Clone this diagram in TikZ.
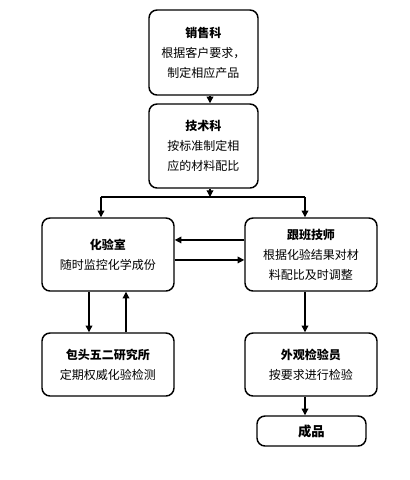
\documentclass[tikz,border=0pt]{standalone}
\usepackage{fontspec}
\newfontfamily\cjk{Noto Sans CJK SC}
\usetikzlibrary{arrows.meta}
\begin{document}
\begin{tikzpicture}[x=0.75pt, y=-0.75pt, box/.style={draw, rounded corners=6pt, line width=1.1pt, align=center, inner sep=0pt, font=\cjk\fontsize{9}{15}\selectfont}, wide/.style={box, minimum width=99pt}, arr/.style={line width=0.9pt, -{Triangle[length=5pt,width=5pt]}}]
	\useasboundingbox (0,0) rectangle (410,480);
	\node[box, minimum width=81.75pt, minimum height=63.75pt] (XS) at (203.5,52.5) {\textbf{销售科}\\根据客户要求，\\制定相应产品};
	\node[box, minimum width=81.75pt, minimum height=63pt] (JS) at (203.5,146) {\textbf{技术科}\\按标准制定相\\应的材料配比};
	\node[wide, minimum height=54.75pt] (HY) at (108,254.5) {\textbf{化验室}\\随时监控化学成份};
	\node[wide, minimum height=54.75pt] (GB) at (311,254.5) {\textbf{跟班技师}\\根据化验结果对材\\料配比及时调整};
	\node[wide, minimum height=47.25pt] (BT) at (108,364.5) {\textbf{包头五二研究所}\\定期权威化验检测};
	\node[wide, minimum height=47.25pt] (WG) at (311,364.5) {\textbf{外观检验员}\\按要求进行检验};
	\node[box, minimum width=81.75pt, minimum height=22.5pt, font=\cjk\bfseries\fontsize{10}{12}\selectfont] (CP) at (311.5,431) {成品};
	\coordinate (split) at (210,197);
	\coordinate (splitL) at (101,197);
	\coordinate (splitR) at (305,197);
	\draw[arr] (XS.south -| split) -- (JS.north -| split);
	\draw[arr] (JS.south -| split) -- (split);
	\draw[line width=0.9pt] (splitL) -- (splitR);
	\draw[arr] (splitL) -- (HY.north -| splitL);
	\draw[arr] (splitR) -- (GB.north -| splitR);
	\draw[arr] ([yshift=10.9pt]GB.west) -- ([yshift=10.9pt]HY.east);
	\draw[arr] ([yshift=-4.1pt]HY.east) -- ([yshift=-4.1pt]GB.west);
	\draw[arr] ([xshift=-14.25pt]HY.south) -- ([xshift=-14.25pt]BT.north);
	\draw[arr] ([xshift=13.5pt]BT.north) -- ([xshift=13.5pt]HY.south);
	\draw[arr] ([xshift=-4.5pt]GB.south) -- ([xshift=-4.5pt]WG.north);
	\draw[arr] ([xshift=-4.5pt]WG.south) -- (CP.north -| splitR);
\end{tikzpicture}
\end{document}
